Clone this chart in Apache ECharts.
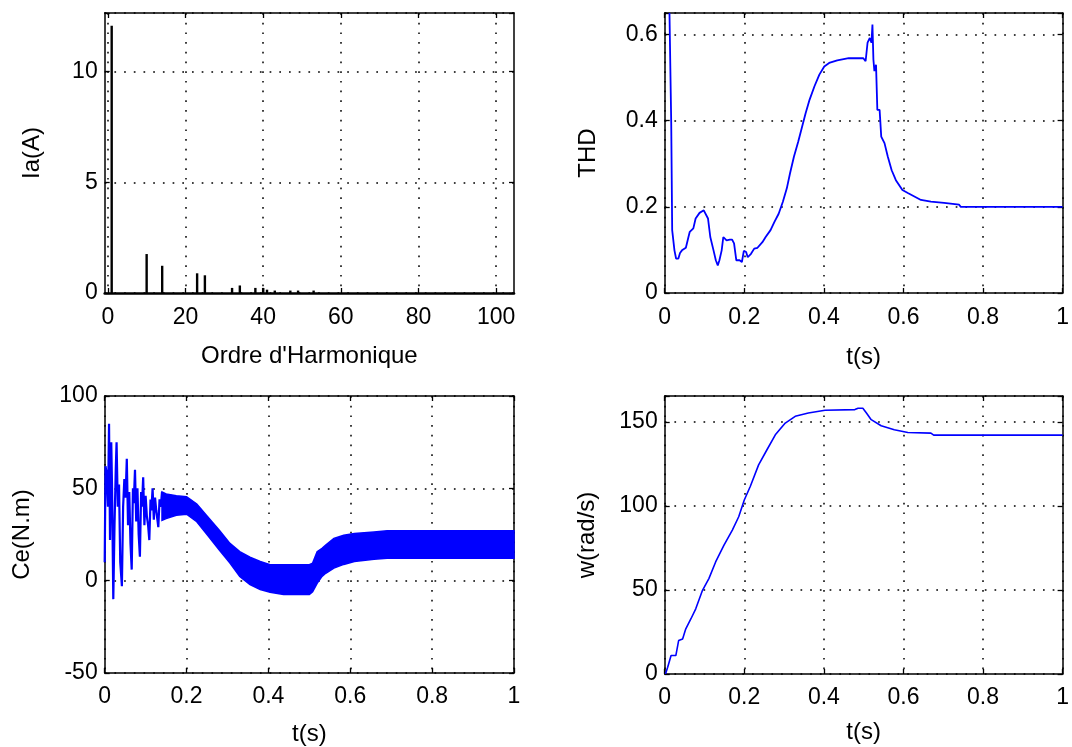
<!DOCTYPE html>
<html><head><meta charset="utf-8">
<script src="https://cdn.jsdelivr.net/npm/echarts@6/dist/echarts.min.js"></script>
<style>html,body{margin:0;padding:0;background:#fff}#c{width:1072px;height:747px}</style>
</head><body><div id="c"></div>
<script>
// ---- Harmonic spectrum (top-left) ----
const harmOrder = [1, 10, 14, 23, 25, 32, 34, 38, 40, 41, 43, 47, 49, 53];
const harmAmp   = [12.07, 1.76, 1.23, 0.89, 0.8, 0.23, 0.34, 0.23, 0.23, 0.15, 0.11, 0.11, 0.11, 0.11];
const harmTicks = [0, 20, 40, 60, 80, 100];

// ---- THD (top-right) ----
const thdT = [0.012, 0.0164, 0.0188, 0.0245, 0.0286, 0.0344, 0.0385, 0.0434, 0.0532, 0.0597, 0.063, 0.072, 0.0777, 0.0876, 0.0982, 0.1023, 0.1088, 0.1146, 0.1227, 0.1285, 0.1334, 0.1375, 0.1432, 0.1473, 0.1514, 0.1555, 0.1596, 0.1637, 0.1694, 0.1743, 0.18, 0.1882, 0.194, 0.1989, 0.2046, 0.2087, 0.2169, 0.225, 0.2332, 0.2455, 0.2537, 0.266, 0.2758, 0.2864, 0.297, 0.3069, 0.315, 0.3249, 0.3355, 0.3453, 0.3543, 0.3642, 0.3764, 0.3887, 0.401, 0.4133, 0.4337, 0.4624, 0.4992, 0.5049, 0.5098, 0.5155, 0.5196, 0.5221, 0.5245, 0.527, 0.5311, 0.5344, 0.5401, 0.5442, 0.5524, 0.5606, 0.5704, 0.581, 0.5974, 0.611, 0.644, 0.669, 0.702, 0.74, 0.744, 1.0];
const thdV = [0.65, 0.394, 0.146, 0.099, 0.080, 0.080, 0.093, 0.099, 0.105, 0.130, 0.142, 0.150, 0.173, 0.186, 0.192, 0.188, 0.173, 0.130, 0.099, 0.076, 0.064, 0.076, 0.099, 0.130, 0.132, 0.122, 0.118, 0.124, 0.124, 0.115, 0.076, 0.076, 0.072, 0.098, 0.095, 0.083, 0.091, 0.103, 0.105, 0.118, 0.130, 0.146, 0.165, 0.184, 0.212, 0.243, 0.278, 0.317, 0.351, 0.386, 0.418, 0.449, 0.480, 0.507, 0.526, 0.534, 0.540, 0.545, 0.545, 0.538, 0.581, 0.592, 0.581, 0.623, 0.542, 0.515, 0.530, 0.425, 0.425, 0.363, 0.348, 0.317, 0.285, 0.262, 0.239, 0.232, 0.216, 0.212, 0.209, 0.205, 0.2, 0.2];

// ---- Electromagnetic torque Ce (bottom-left) ----
const ceStartT = [0, 0.002, 0.005, 0.008, 0.0106, 0.013, 0.016, 0.018, 0.021, 0.024, 0.027, 0.029, 0.032, 0.035, 0.038, 0.042, 0.045, 0.048, 0.051, 0.054, 0.057, 0.060, 0.063, 0.066, 0.069, 0.071, 0.074, 0.077, 0.080, 0.083, 0.086, 0.089, 0.091, 0.094, 0.097, 0.100, 0.103, 0.106, 0.109, 0.112, 0.114, 0.117, 0.120, 0.123, 0.126, 0.131, 0.134, 0.137, 0.140];
const ceStartV = [10, 62, 58, 40, 85, 22, 75, 50, -10, 30, 60, 75, 40, 52, 10, -3, 40, 55, 45, 66, 30, 48, 20, 6, 50, 42, 60, 32, 50, 25, 13, 48, 40, 56, 30, 46, 35, 30, 22, 44, 38, 50, 33, 45, 38, 29, 44, 40, 48];
// ripple band (dense oscillation) read as upper / lower envelopes
const ceBandT     = [0.14, 0.15, 0.175, 0.2, 0.225, 0.25, 0.28, 0.306, 0.33, 0.355, 0.38, 0.404, 0.437, 0.5, 0.508, 0.519, 0.531, 0.54, 0.56, 0.584, 0.61, 0.658, 0.69, 1.0];
const ceBandUpper = [48, 47, 46, 45.5, 41.5, 35, 27.3, 20.2, 15.7, 12.7, 10.4, 8.6, 8.6, 8.6, 9.5, 15.7, 17.5, 19.3, 22.9, 24.6, 25.5, 26.4, 27, 27];
const ceBandLower = [32.7, 33.6, 35.4, 36, 31.9, 25, 16.6, 9.5, 2.3, -2.1, -4.8, -6.3, -7.5, -7.5, -6, -1.5, 2.3, 4, 6.8, 8.8, 10.4, 11.6, 12.1, 12.1];

// ---- Speed w (bottom-right) ----
const wT = [0.002, 0.0075, 0.016, 0.028, 0.035, 0.045, 0.053, 0.066, 0.078, 0.095, 0.111, 0.128, 0.149, 0.170, 0.186, 0.200, 0.215, 0.236, 0.257, 0.278, 0.303, 0.328, 0.361, 0.403, 0.478, 0.486, 0.498, 0.507, 0.519, 0.544, 0.577, 0.611, 0.669, 0.676, 1.0];
const wV = [0, 4, 11, 11, 19.9, 20.9, 26.9, 32.9, 38.8, 49.8, 56.8, 66.7, 76.7, 85.7, 93.6, 103.6, 111.6, 124.5, 133.5, 142.4, 149.4, 153.4, 155.4, 157, 157.4, 158.2, 158.2, 155.4, 151.4, 147.8, 145.4, 143.8, 143.4, 142.2, 142.2];

const FONT = 'Liberation Sans, Arial, Helvetica, sans-serif';
const BLUE = '#0000ff';
const pair = (xs, ys) => xs.map((x, i) => [x, ys[i]]);
const fmt = step => v => { const r = v / step; return Math.abs(r - Math.round(r)) < 1e-6 ? String(+v.toFixed(6)) : ''; };

const grids = [
  { left: 104.7, top: 13, width: 409.3, height: 280 },
  { left: 664.7, top: 13, width: 406, height: 280 },
  { left: 104.7, top: 396, width: 409.3, height: 278 },
  { left: 664.7, top: 396, width: 406, height: 278 }
];

const splitLine = { show: true, lineStyle: { color: '#000', width: 1.5, type: [1.7, 8] } };
const axisLine = w => ({ show: true, onZero: false, lineStyle: { color: '#000', width: w || 1.5 } });
const tick = { show: true, inside: true, length: 5, lineStyle: { color: '#000', width: 1.3 } };
const lbl = (step, margin) => ({ show: true, color: '#000', fontSize: 23, fontFamily: FONT, margin: margin, formatter: fmt(step) });
const nameStyle = { color: '#000', fontSize: 24, fontFamily: FONT };

function xPair(gi, cfg) {
  const base = { type: 'value', gridIndex: gi, min: cfg.min, max: cfg.max };
  if (cfg.interval !== undefined) base.interval = cfg.interval;
  const main = Object.assign({}, base, {
    position: 'bottom',
    axisLine: axisLine(cfg.lineW),
    axisTick: Object.assign({}, tick, cfg.custom ? { customValues: cfg.custom } : {}),
    axisLabel: Object.assign(lbl(cfg.step, cfg.labelMargin), cfg.custom ? { customValues: cfg.custom } : {}),
    splitLine: splitLine,
    name: cfg.name, nameLocation: 'middle', nameGap: cfg.nameGap, nameTextStyle: nameStyle
  });
  const top = Object.assign({}, base, {
    position: 'top',
    axisLine: axisLine(),
    axisTick: Object.assign({}, tick, cfg.custom ? { customValues: cfg.custom } : {}),
    axisLabel: { show: false },
    splitLine: { show: false }
  });
  return [main, top];
}
function yPair(gi, cfg) {
  const base = { type: 'value', gridIndex: gi, min: cfg.min, max: cfg.max, interval: cfg.interval };
  const main = Object.assign({}, base, {
    position: 'left',
    axisLine: axisLine(),
    axisTick: tick,
    axisLabel: lbl(cfg.interval, 7),
    splitLine: splitLine,
    name: cfg.name, nameLocation: 'middle', nameGap: cfg.nameGap, nameTextStyle: nameStyle
  });
  const right = Object.assign({}, base, {
    position: 'right',
    axisLine: axisLine(),
    axisTick: tick,
    axisLabel: { show: false },
    splitLine: { show: false }
  });
  return [main, right];
}

const xAxes = [].concat(
  xPair(0, { min: -0.8, max: 104.6, custom: harmTicks, step: 20, name: "Ordre d'Harmonique", nameGap: 51, lineW: 2.6, labelMargin: 13 }),
  xPair(1, { min: 0, max: 1, interval: 0.2, step: 0.2, name: 't(s)', nameGap: 52, labelMargin: 13 }),
  xPair(2, { min: 0, max: 1, interval: 0.2, step: 0.2, name: 't(s)', nameGap: 49, labelMargin: 12 }),
  xPair(3, { min: 0, max: 1, interval: 0.2, step: 0.2, name: 't(s)', nameGap: 46, labelMargin: 12 })
);
const yAxes = [].concat(
  yPair(0, { min: 0, max: 12.65, interval: 5, name: 'Ia(A)', nameGap: 60 }),
  yPair(1, { min: 0, max: 0.65, interval: 0.2, name: 'THD', nameGap: 64 }),
  yPair(2, { min: -50, max: 100, interval: 50, name: 'Ce(N.m)', nameGap: 70 }),
  yPair(3, { min: 0, max: 165.5, interval: 50, name: 'w(rad/s)', nameGap: 65 })
);

const lineSeries = (xi, data, w) => ({
  type: 'line', xAxisIndex: xi, yAxisIndex: xi, data: data, showSymbol: false, symbol: 'none',
  lineStyle: { color: BLUE, width: w || 1.6 }, itemStyle: { color: BLUE }, clip: true, z: 3
});

// band of the dense torque ripple: polygon between the envelopes, placed via the axes' scales
const bandSeries = {
  type: 'custom', xAxisIndex: 4, yAxisIndex: 4, clip: true, z: 3,
  data: ceBandT.map((t, i) => [t, ceBandUpper[i], ceBandLower[i]]),
  encode: { x: 0, y: [1, 2] },
  renderItem: function (params, api) {
    if (params.dataIndex !== 0) return;
    const pts = [];
    for (let i = 0; i < ceBandT.length; i++) pts.push(api.coord([ceBandT[i], ceBandUpper[i]]));
    for (let i = ceBandT.length - 1; i >= 0; i--) pts.push(api.coord([ceBandT[i], ceBandLower[i]]));
    return { type: 'polygon', shape: { points: pts }, style: { fill: BLUE, stroke: BLUE, lineWidth: 1.5 } };
  }
};

const series = [
  { type: 'bar', xAxisIndex: 0, yAxisIndex: 0, data: pair(harmOrder, harmAmp), barWidth: 2.4,
    itemStyle: { color: '#000' }, z: 3 },
  lineSeries(2, pair(thdT, thdV), 1.8),
  lineSeries(4, pair(ceStartT, ceStartV), 2.2),
  bandSeries,
  lineSeries(6, pair(wT, wV), 1.6)
];

const chart = echarts.init(document.getElementById('c'), null, { renderer: 'canvas' });
chart.setOption({
  animation: false,
  backgroundColor: '#fff',
  grid: grids,
  xAxis: xAxes,
  yAxis: yAxes,
  series: series
});
</script>
</body></html>
